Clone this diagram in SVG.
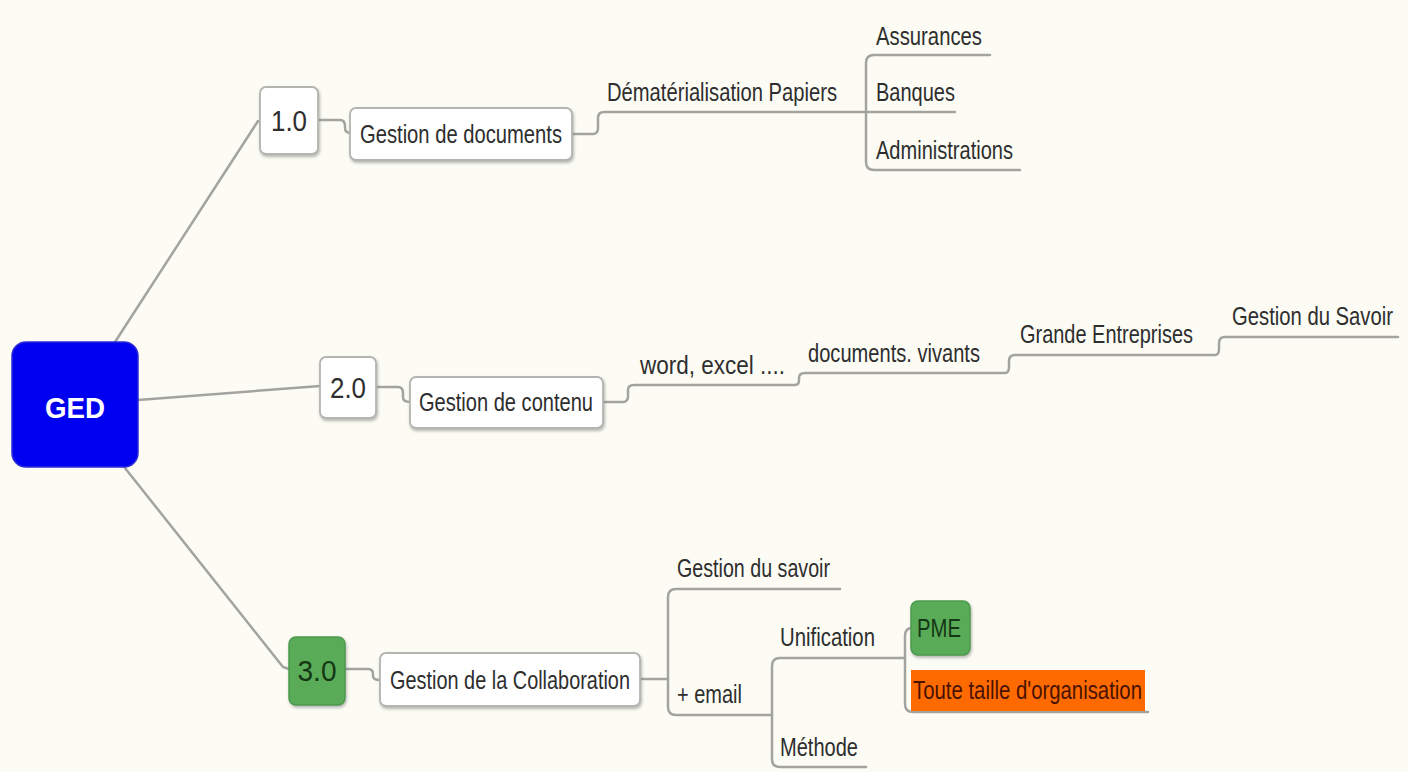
<svg xmlns="http://www.w3.org/2000/svg" width="1408" height="772" viewBox="0 0 1408 772">
  <defs>
    <filter id="shadow" x="-10%" y="-20%" width="130%" height="150%">
      <feDropShadow dx="1" dy="2" stdDeviation="1.5" flood-color="#7a7a7a" flood-opacity="0.55"/>
    </filter>
    <style>
      .bg { fill: #fcfcf5; }
      .link { fill: none; stroke: #a3a3a0; stroke-width: 2.5; stroke-linecap: round; stroke-linejoin: round; }
      .box { fill: #ffffff; stroke: #b4b4b0; stroke-width: 1.8; filter: url(#shadow); }
      .green { fill: #5aab59; stroke: #4d9a4c; stroke-width: 1.5; filter: url(#shadow); }
      .orange { fill: #ff6a00; }
      .root { fill: #0000f0; stroke: #2a2ad8; stroke-width: 1.5; }
      text { font-family: "Liberation Sans", Arial, sans-serif; font-size: 25px; fill: #2e2e2e; }
      .ver { font-size: 29px; text-anchor: middle; }
      .root-label { font-size: 30px; font-weight: bold; fill: #ffffff; text-anchor: middle; }
      .dark-green { fill: #143814; }
      .dark-red { fill: #4a1200; }
    </style>
  </defs>

  <rect class="bg" x="0" y="0" width="1408" height="772"/>

  <!-- connectors -->
  <g id="connectors">
    <!-- root to versions -->
    <path class="link" d="M115,342 L258,121"/>
    <path class="link" d="M138,400 L320,386"/>
    <path class="link" d="M125,468 L283,667 L289,669"/>

    <!-- 1.0 branch -->
    <path class="link" d="M318,120 H340 Q345,120 345,126 V128 Q345,133 351,133"/>
    <path class="link" d="M572,134 H593 Q598,134 598,128 V118 Q598,112 604,112 H866"/>
    <path class="link" d="M990,55 H874 Q866,55 866,63 V162 Q866,170 874,170 H1020"/>
    <path class="link" d="M866,112 H955"/>

    <!-- 2.0 branch -->
    <path class="link" d="M376,387 H398 Q403,387 403,393 V397 Q403,402 410,402"/>
    <path class="link" d="M603,402 H623 Q628,402 628,396 V390 Q628,385 634,385 H795 Q799,385 799,380 V378 Q799,373 805,373 H1005 Q1009,373 1009,367 V361 Q1009,355 1015,355 H1215 Q1219,355 1219,349 V343 Q1219,337 1225,337 H1398"/>

    <!-- 3.0 branch -->
    <path class="link" d="M345,669 H368 Q373,669 373,674 V676 Q373,680 380,680"/>
    <path class="link" d="M640,679 H668"/>
    <path class="link" d="M840,589 H676 Q668,589 668,597 V707 Q668,715 676,715 H772"/>
    <path class="link" d="M900,658 H780 Q772,658 772,666 V759 Q772,767 780,767 H866"/>
    <path class="link" d="M900,658 H905"/>
    <path class="link" d="M912,628 Q905,628 905,636 V704 Q905,712 913,712 H1148"/>
  </g>

  <!-- root -->
  <g id="node-ged">
    <rect class="root" x="12" y="342" width="126" height="125" rx="14"/>
    <text class="root-label" x="75" y="418" textLength="60" lengthAdjust="spacingAndGlyphs">GED</text>
  </g>

  <!-- 1.0 -->
  <g id="node-v1">
    <rect class="box" x="260" y="87" width="58" height="67" rx="6"/>
    <text class="ver" transform="translate(289,131) scale(0.8,1)" textLength="45" lengthAdjust="spacingAndGlyphs">1.0</text>
  </g>
  <g id="node-gestion-documents">
    <rect class="box" x="350" y="108" width="222" height="52" rx="6"/>
    <text transform="translate(360,143) scale(0.8,1)" textLength="252.5" lengthAdjust="spacingAndGlyphs">Gestion de documents</text>
  </g>
  <g id="node-dematerialisation">
    <text transform="translate(607,101) scale(0.8,1)" textLength="287.5" lengthAdjust="spacingAndGlyphs">Dématérialisation Papiers</text>
  </g>
  <g id="node-assurances">
    <text transform="translate(876,45) scale(0.8,1)" textLength="132.5" lengthAdjust="spacingAndGlyphs">Assurances</text>
  </g>
  <g id="node-banques">
    <text transform="translate(876,101) scale(0.8,1)" textLength="98.75" lengthAdjust="spacingAndGlyphs">Banques</text>
  </g>
  <g id="node-administrations">
    <text transform="translate(876,159) scale(0.8,1)" textLength="171.25" lengthAdjust="spacingAndGlyphs">Administrations</text>
  </g>

  <!-- 2.0 -->
  <g id="node-v2">
    <rect class="box" x="320" y="357" width="56" height="61" rx="6"/>
    <text class="ver" transform="translate(348,398) scale(0.8,1)" textLength="45" lengthAdjust="spacingAndGlyphs">2.0</text>
  </g>
  <g id="node-gestion-contenu">
    <rect class="box" x="410" y="377" width="193" height="51" rx="6"/>
    <text transform="translate(419,411) scale(0.8,1)" textLength="217.5" lengthAdjust="spacingAndGlyphs">Gestion de contenu</text>
  </g>
  <g id="node-word-excel">
    <text transform="translate(640,374) scale(0.8,1)" textLength="181.25" lengthAdjust="spacingAndGlyphs">word, excel ....</text>
  </g>
  <g id="node-documents-vivants">
    <text transform="translate(808,362) scale(0.8,1)" textLength="215" lengthAdjust="spacingAndGlyphs">documents. vivants</text>
  </g>
  <g id="node-grande-entreprises">
    <text transform="translate(1020,343) scale(0.8,1)" textLength="216.25" lengthAdjust="spacingAndGlyphs">Grande Entreprises</text>
  </g>
  <g id="node-gestion-du-savoir-2">
    <text transform="translate(1232,325) scale(0.8,1)" textLength="201.25" lengthAdjust="spacingAndGlyphs">Gestion du Savoir</text>
  </g>

  <!-- 3.0 -->
  <g id="node-v3">
    <rect class="green" x="289" y="637" width="56" height="68" rx="7"/>
    <text class="ver dark-green" transform="translate(317,681) scale(0.8,1)" textLength="48.75" lengthAdjust="spacingAndGlyphs">3.0</text>
  </g>
  <g id="node-gestion-collaboration">
    <rect class="box" x="380" y="653" width="260" height="53" rx="6"/>
    <text transform="translate(390,689) scale(0.8,1)" textLength="300" lengthAdjust="spacingAndGlyphs">Gestion de la Collaboration</text>
  </g>
  <g id="node-gestion-du-savoir-3">
    <text transform="translate(677,577) scale(0.8,1)" textLength="191.25" lengthAdjust="spacingAndGlyphs">Gestion du savoir</text>
  </g>
  <g id="node-email">
    <text transform="translate(677,703) scale(0.8,1)" textLength="81.25" lengthAdjust="spacingAndGlyphs">+ email</text>
  </g>
  <g id="node-unification">
    <text transform="translate(780,646) scale(0.8,1)" textLength="118.75" lengthAdjust="spacingAndGlyphs">Unification</text>
  </g>
  <g id="node-methode">
    <text transform="translate(780,756) scale(0.8,1)" textLength="97.5" lengthAdjust="spacingAndGlyphs">Méthode</text>
  </g>
  <g id="node-pme">
    <rect class="green" x="911" y="601" width="59" height="54" rx="7"/>
    <text class="dark-green" transform="translate(917,637) scale(0.8,1)" textLength="55" lengthAdjust="spacingAndGlyphs">PME</text>
  </g>
  <g id="node-toute-taille">
    <rect class="orange" x="911" y="670" width="234" height="41"/>
    <text class="dark-red" transform="translate(913,699) scale(0.8,1)" textLength="286.25" lengthAdjust="spacingAndGlyphs">Toute taille d'organisation</text>
  </g>
</svg>
